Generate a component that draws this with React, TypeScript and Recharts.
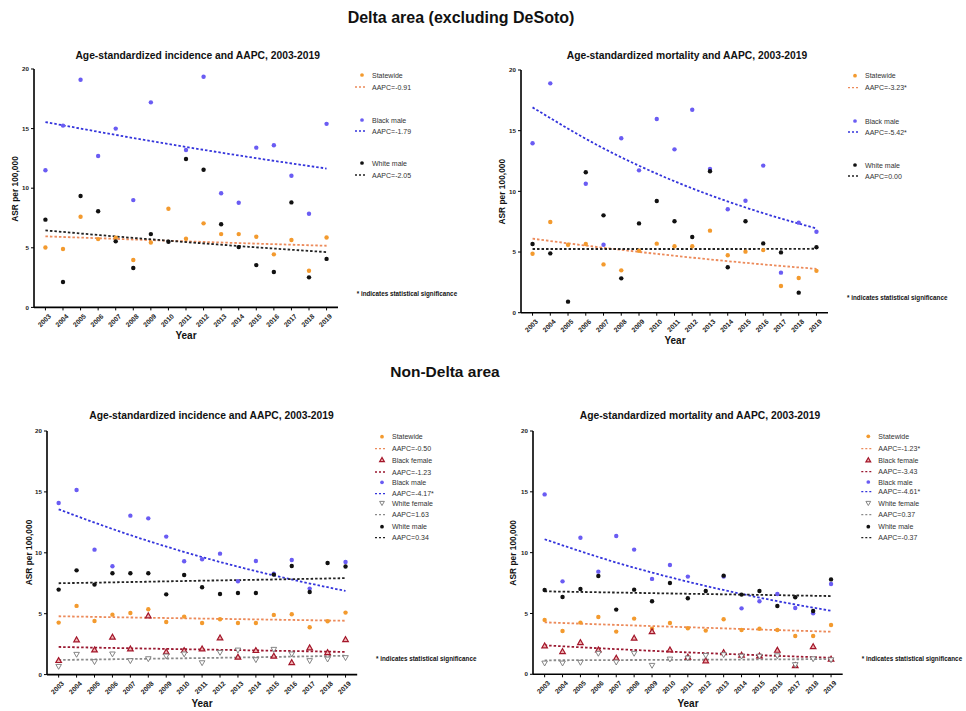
import React from "react";
import { ComposedChart, Line, Scatter, XAxis, YAxis } from "recharts";

const FONT = '"Liberation Sans", Arial, Helvetica, sans-serif';

const YEARS = [2003, 2004, 2005, 2006, 2007, 2008, 2009, 2010, 2011, 2012, 2013, 2014, 2015, 2016, 2017, 2018, 2019];
const TREND_YEARS = [2003, 2007, 2011, 2015, 2019];
const Y_TICKS = [0, 5, 10, 15, 20];

// Delta area (excluding DeSoto) - incidence
const D_INC_STATEWIDE = [5.03, 4.9, 7.6, 5.73, 5.85, 3.97, 5.45, 8.28, 5.76, 7.05, 6.15, 6.15, 5.93, 4.45, 5.65, 3.08, 5.86];
const D_INC_BLACK_MALE = [11.5, 15.25, 19.1, 12.7, 15.0, 9.0, 17.2, null, 13.2, 19.35, 9.57, 8.78, 13.4, 13.6, 11.05, 7.86, 15.4];
const D_INC_WHITE_MALE = [7.36, 2.13, 9.34, 8.06, 5.54, 3.3, 6.15, 5.51, 12.45, 11.55, 6.97, 5.06, 3.55, 2.97, 8.81, 2.52, 4.07];
const D_INC_TREND_STATEWIDE = [5.96, 5.75, 5.54, 5.35, 5.17];
const D_INC_TREND_BLACK_MALE = [15.55, 14.47, 13.46, 12.52, 11.65];
const D_INC_TREND_WHITE_MALE = [6.46, 5.95, 5.48, 5.04, 4.64];
const D_INC_AAPC = ["AAPC=-0.91", "AAPC=-1.79", "AAPC=-2.05"];

// Delta area - mortality
const D_MORT_STATEWIDE = [4.86, 7.47, 5.6, 5.66, 3.98, 3.49, 5.11, 5.69, 5.47, 5.47, 6.76, 4.73, 5.03, 5.16, 2.2, 2.86, 3.45];
const D_MORT_BLACK_MALE = [13.96, 18.9, null, 10.63, 5.6, 14.37, 11.73, 15.96, 13.46, 16.73, 11.84, 8.52, 9.23, 12.12, 3.3, 7.42, 6.67];
const D_MORT_WHITE_MALE = [5.66, 4.89, 0.91, 11.57, 8.02, 2.83, 7.36, 9.2, 7.53, 6.24, 11.65, 3.74, 7.53, 5.71, 4.97, 1.65, 5.4];
const D_MORT_TREND_STATEWIDE = [6.1, 5.35, 4.69, 4.11, 3.61];
const D_MORT_TREND_BLACK_MALE = [16.92, 13.54, 10.83, 8.67, 6.94];
const D_MORT_TREND_WHITE_MALE = [5.25, 5.25, 5.25, 5.25, 5.27];
const D_MORT_AAPC = ["AAPC=-3.23*", "AAPC=-5.42*", "AAPC=0.00"];

// Non-Delta area - incidence
const N_INC_STATEWIDE = [4.27, 5.64, 4.4, 4.92, 5.06, 5.36, 4.32, 4.76, 4.24, 4.54, 4.24, 4.24, 4.9, 4.95, 3.89, 4.38, 5.09];
const N_INC_BLACK_FEMALE = [1.15, 2.85, 2.02, 3.06, 2.1, 4.82, 1.86, 1.97, 2.1, 3.0, 1.42, 1.97, 1.5, 0.98, 2.19, 1.8, 2.87];
const N_INC_BLACK_MALE = [14.09, 15.16, 10.26, 8.89, 13.05, 12.83, 11.33, 9.3, 9.47, 9.93, 7.66, 9.33, 8.29, 9.41, 7.06, null, 9.25];
const N_INC_WHITE_FEMALE = [0.68, 1.67, 1.07, 1.7, 1.15, 1.31, 1.53, 1.7, 0.98, 1.83, 2.02, 1.23, 2.08, 1.7, 1.15, 1.28, 1.4];
const N_INC_WHITE_MALE = [6.98, 8.56, 7.39, 8.32, 8.32, 8.32, 6.59, 8.18, 7.17, 6.62, 6.7, 6.7, 8.21, 8.92, 6.78, 9.16, 8.87];
const N_INC_TREND_STATEWIDE = [4.79, 4.69, 4.6, 4.51, 4.42];
const N_INC_TREND_BLACK_FEMALE = [2.27, 2.16, 2.06, 1.96, 1.86];
const N_INC_TREND_BLACK_MALE = [13.57, 11.45, 9.65, 8.14, 6.87];
const N_INC_TREND_WHITE_FEMALE = [1.2, 1.28, 1.36, 1.45, 1.55];
const N_INC_TREND_WHITE_MALE = [7.5, 7.6, 7.71, 7.81, 7.92];
const N_INC_AAPC = ["AAPC=-0.50", "AAPC=-1.23", "AAPC=-4.17*", "AAPC=1.63", "AAPC=0.34"];

// Non-Delta area - mortality
const N_MORT_STATEWIDE = [4.47, 3.56, 4.25, 4.71, 3.51, 4.58, 3.75, 4.22, 3.78, 3.59, 4.52, 3.64, 3.75, 3.64, 3.15, 3.15, 4.05];
const N_MORT_BLACK_FEMALE = [2.33, 1.86, 2.6, 2.0, 1.32, 2.96, 3.5, 2.0, 1.4, 1.1, 1.78, 1.56, 1.5, 1.97, 0.71, 2.27, 1.23];
const N_MORT_BLACK_MALE = [14.79, 7.64, 11.23, 8.44, 11.37, 10.25, 7.84, 8.99, 8.03, null, 8.03, 5.42, 6.0, 6.6, 5.45, 5.01, 7.42];
const N_MORT_WHITE_FEMALE = [0.93, 0.93, 0.99, 1.73, 1.01, 1.73, 0.74, 1.26, 1.34, 1.56, 1.62, 1.5, 1.5, 1.53, 0.8, 1.28, 1.2];
const N_MORT_WHITE_MALE = [6.93, 6.36, 7.01, 8.08, 5.32, 6.96, 6.0, 7.51, 6.25, 6.85, 8.11, 6.55, 6.85, 5.62, 6.33, 5.2, 7.8];
const N_MORT_TREND_STATEWIDE = [4.27, 4.06, 3.87, 3.68, 3.5];
const N_MORT_TREND_BLACK_FEMALE = [2.38, 2.07, 1.8, 1.57, 1.36];
const N_MORT_TREND_BLACK_MALE = [11.1, 9.19, 7.61, 6.3, 5.22];
const N_MORT_TREND_WHITE_FEMALE = [1.15, 1.17, 1.19, 1.22, 1.25];
const N_MORT_TREND_WHITE_MALE = [6.82, 6.72, 6.62, 6.53, 6.43];
const N_MORT_AAPC = ["AAPC=-1.23*", "AAPC=-3.43", "AAPC=-4.61*", "AAPC=0.37", "AAPC=-0.37"];

const SERIES_STYLE: Record<string, { name: string; marker: string; color: string; line: string }> = {
  sw: { name: "Statewide", marker: "circle", color: "#f39a2e", line: "#ec8a5a" },
  bf: { name: "Black female", marker: "up", color: "#a3162a", line: "#9a1830" },
  bm: { name: "Black male", marker: "circle", color: "#6a5cf3", line: "#3434dc" },
  wf: { name: "White female", marker: "down", color: "#777777", line: "#8a8a8a" },
  wm: { name: "White male", marker: "circle", color: "#111111", line: "#222222" },
};

function buildRows(series: Record<string, { vals: (number | null)[]; trend: number[] }>) {
  return YEARS.map((year, i) => {
    const row: Record<string, number | null> = { year };
    for (const k of Object.keys(series)) {
      row[k] = series[k].vals[i];
      const ti = TREND_YEARS.indexOf(year);
      row[k + "T"] = ti >= 0 ? series[k].trend[ti] : null;
    }
    return row;
  });
}

function drawMarker(kind: string, cx: number, cy: number, color: string, s = 1) {
  if (kind === "up") {
    return (
      <polygon
        points={`${cx},${cy - 3 * s} ${cx - 2.8 * s},${cy + 1.9 * s} ${cx + 2.8 * s},${cy + 1.9 * s}`}
        fill="#f1b5b5"
        stroke={color}
        strokeWidth={1.2}
      />
    );
  }
  if (kind === "down") {
    return (
      <polygon
        points={`${cx - 2.8 * s},${cy - 1.9 * s} ${cx + 2.8 * s},${cy - 1.9 * s} ${cx},${cy + 3 * s}`}
        fill="#ffffff"
        stroke={color}
        strokeWidth={0.9}
      />
    );
  }
  return <circle cx={cx} cy={cy} r={2.2 * s} fill={color} />;
}

const XTick = (props: any) => {
  const { x, y, payload } = props;
  const tx = x + 2.5;
  const ty = y + 1;
  return (
    <text
      x={tx}
      y={ty}
      transform={`rotate(-45 ${tx} ${ty})`}
      textAnchor="end"
      dominantBaseline="hanging"
      fontSize={6.8}
      fontWeight="bold"
      fontFamily={FONT}
      fill="#222"
    >
      {payload.value}
    </text>
  );
};

const YTick = (props: any) => {
  const { x, y, payload } = props;
  return (
    <text x={x} y={y} dy="0.35em" textAnchor="end" fontSize={6.2} fontWeight="bold" fontFamily={FONT} fill="#222">
      {payload.value}
    </text>
  );
};

interface PanelCfg {
  plotLeft: number;
  plotTop: number;
  plotW: number;
  plotH: number;
  keys: string[];
  rows: Record<string, number | null>[];
}

const Panel: React.FC<{ cfg: PanelCfg }> = ({ cfg }) => {
  const { plotLeft, plotTop, plotW, plotH, keys, rows } = cfg;
  const YW = 30;
  const XH = 30;
  const MT = 5;
  const MR = 5;
  return (
    <div style={{ position: "absolute", left: plotLeft - YW, top: plotTop - MT }}>
      <ComposedChart
        width={YW + plotW + MR}
        height={MT + plotH + XH}
        data={rows}
        margin={{ top: MT, right: MR, left: 0, bottom: 0 }}
      >
        <XAxis
          type="number"
          dataKey="year"
          domain={[2002.35, 2019.65]}
          allowDataOverflow
          ticks={YEARS}
          interval={0}
          height={XH}
          tickSize={3}
          axisLine={{ stroke: "#000", strokeWidth: 1.6 }}
          tickLine={{ stroke: "#000", strokeWidth: 1 }}
          tick={<XTick />}
        />
        <YAxis
          type="number"
          domain={[0, 20]}
          allowDataOverflow
          ticks={Y_TICKS}
          interval={0}
          width={YW}
          tickSize={3}
          axisLine={{ stroke: "#000", strokeWidth: 1.6 }}
          tickLine={{ stroke: "#000", strokeWidth: 1 }}
          tick={<YTick />}
        />
        {keys.map((k) => (
          <Line
            key={k + "T"}
            dataKey={k + "T"}
            type="monotone"
            connectNulls
            stroke={SERIES_STYLE[k].line}
            strokeWidth={1.8}
            strokeDasharray="2.5 2"
            dot={false}
            activeDot={false}
            isAnimationActive={false}
          />
        ))}
        {keys.map((k) => (
          <Scatter
            key={k}
            dataKey={k}
            isAnimationActive={false}
            shape={(p: any) => {
              const v = p.payload ? p.payload[k] : null;
              if (v == null || !isFinite(p.cx) || !isFinite(p.cy)) return <g />;
              return drawMarker(SERIES_STYLE[k].marker, p.cx, p.cy, SERIES_STYLE[k].color);
            }}
          />
        ))}
      </ComposedChart>
    </div>
  );
};

const PANELS: PanelCfg[] = [
  {
    plotLeft: 34,
    plotTop: 69.3,
    plotW: 304,
    plotH: 238.4,
    keys: ["sw", "bm", "wm"],
    rows: buildRows({
      sw: { vals: D_INC_STATEWIDE, trend: D_INC_TREND_STATEWIDE },
      bm: { vals: D_INC_BLACK_MALE, trend: D_INC_TREND_BLACK_MALE },
      wm: { vals: D_INC_WHITE_MALE, trend: D_INC_TREND_WHITE_MALE },
    }),
  },
  {
    plotLeft: 520.5,
    plotTop: 70,
    plotW: 307,
    plotH: 242.7,
    keys: ["sw", "bm", "wm"],
    rows: buildRows({
      sw: { vals: D_MORT_STATEWIDE, trend: D_MORT_TREND_STATEWIDE },
      bm: { vals: D_MORT_BLACK_MALE, trend: D_MORT_TREND_BLACK_MALE },
      wm: { vals: D_MORT_WHITE_MALE, trend: D_MORT_TREND_WHITE_MALE },
    }),
  },
  {
    plotLeft: 46.7,
    plotTop: 430.7,
    plotW: 310.2,
    plotH: 243.6,
    keys: ["sw", "bf", "bm", "wf", "wm"],
    rows: buildRows({
      sw: { vals: N_INC_STATEWIDE, trend: N_INC_TREND_STATEWIDE },
      bf: { vals: N_INC_BLACK_FEMALE, trend: N_INC_TREND_BLACK_FEMALE },
      bm: { vals: N_INC_BLACK_MALE, trend: N_INC_TREND_BLACK_MALE },
      wf: { vals: N_INC_WHITE_FEMALE, trend: N_INC_TREND_WHITE_FEMALE },
      wm: { vals: N_INC_WHITE_MALE, trend: N_INC_TREND_WHITE_MALE },
    }),
  },
  {
    plotLeft: 532.5,
    plotTop: 431,
    plotW: 309.7,
    plotH: 243.3,
    keys: ["sw", "bf", "bm", "wf", "wm"],
    rows: buildRows({
      sw: { vals: N_MORT_STATEWIDE, trend: N_MORT_TREND_STATEWIDE },
      bf: { vals: N_MORT_BLACK_FEMALE, trend: N_MORT_TREND_BLACK_FEMALE },
      bm: { vals: N_MORT_BLACK_MALE, trend: N_MORT_TREND_BLACK_MALE },
      wf: { vals: N_MORT_WHITE_FEMALE, trend: N_MORT_TREND_WHITE_FEMALE },
      wm: { vals: N_MORT_WHITE_MALE, trend: N_MORT_TREND_WHITE_MALE },
    }),
  },
];

// legend / label placement for each panel
const ANNOT = [
  {
    title: "Age-standardized incidence and AAPC, 2003-2019",
    titleX: 197.7, titleY: 55,
    yLabelX: 15.3, yLabelY: 189,
    yearX: 186, yearY: 335,
    legendX: 362, legendYs: [75, 87, 120, 131, 163, 175],
    keys: ["sw", "bm", "wm"], aapc: D_INC_AAPC,
    noteX: 356.7, noteY: 293,
  },
  {
    title: "Age-standardized mortality and AAPC, 2003-2019",
    titleX: 687, titleY: 55,
    yLabelX: 501.7, yLabelY: 191.7,
    yearX: 675, yearY: 340,
    legendX: 855, legendYs: [75.7, 87.7, 121, 132, 165, 176],
    keys: ["sw", "bm", "wm"], aapc: D_MORT_AAPC,
    noteX: 847, noteY: 297,
  },
  {
    title: "Age-standardized incidence and AAPC, 2003-2019",
    titleX: 211.5, titleY: 415,
    yLabelX: 29.3, yLabelY: 552.5,
    yearX: 202, yearY: 703,
    legendX: 382, legendYs: [436.7, 448.7, 460, 472, 482.3, 493.7, 503, 514.7, 526.7, 537.7],
    keys: ["sw", "bf", "bm", "wf", "wm"], aapc: N_INC_AAPC,
    noteX: 376, noteY: 658.7,
  },
  {
    title: "Age-standardized mortality and AAPC, 2003-2019",
    titleX: 700, titleY: 415,
    yLabelX: 513.3, yLabelY: 552.8,
    yearX: 688, yearY: 703,
    legendX: 868.3, legendYs: [436.3, 448.7, 460.3, 471.7, 482, 491.7, 503, 514.7, 526.7, 537.7],
    keys: ["sw", "bf", "bm", "wf", "wm"], aapc: N_MORT_AAPC,
    noteX: 861.7, noteY: 658.7,
  },
];

const Annotations: React.FC = () => (
  <svg width={966} height={711} style={{ position: "absolute", left: 0, top: 0, pointerEvents: "none" }} fontFamily={FONT}>
    <text x={461} y={17} dominantBaseline="central" textAnchor="middle" fontSize={16} fontWeight="bold" fill="#111">
      Delta area (excluding DeSoto)
    </text>
    <text x={445} y={371} dominantBaseline="central" textAnchor="middle" fontSize={15.5} fontWeight="bold" fill="#111">
      Non-Delta area
    </text>
    {ANNOT.map((a, pi) => (
      <g key={pi}>
        <text x={a.titleX} y={a.titleY} dominantBaseline="central" textAnchor="middle" fontSize={10.3} fontWeight="bold" fill="#111">
          {a.title}
        </text>
        <text
          x={a.yLabelX}
          y={a.yLabelY}
          transform={`rotate(-90 ${a.yLabelX} ${a.yLabelY})`}
          dominantBaseline="central"
          textAnchor="middle"
          fontSize={8.4}
          fontWeight="bold"
          fill="#111"
        >
          ASR per 100,000
        </text>
        <text x={a.yearX} y={a.yearY} dominantBaseline="central" textAnchor="middle" fontSize={10} fontWeight="bold" fill="#111">
          Year
        </text>
        {a.keys.map((k, i) => {
          const st = SERIES_STYLE[k];
          const ym = a.legendYs[i * 2];
          const yl = a.legendYs[i * 2 + 1];
          return (
            <g key={k}>
              {drawMarker(st.marker, a.legendX, ym, st.color, 0.85)}
              <text x={a.legendX + 10} y={ym} dominantBaseline="central" fontSize={7} fill="#333">
                {st.name}
              </text>
              <line
                x1={a.legendX - 7}
                x2={a.legendX + 5}
                y1={yl}
                y2={yl}
                stroke={st.line}
                strokeWidth={1.3}
                strokeDasharray="2 2"
              />
              <text x={a.legendX + 10} y={yl} dominantBaseline="central" fontSize={7} fill="#333">
                {a.aapc[i]}
              </text>
            </g>
          );
        })}
        <text x={a.noteX} y={a.noteY} dominantBaseline="central" fontSize={6.3} fontWeight="bold" fill="#111">
          * indicates statistical significance
        </text>
      </g>
    ))}
  </svg>
);

export default function App() {
  return (
    <div style={{ position: "absolute", left: 0, top: 0, width: 966, height: 711, background: "#fff", overflow: "hidden" }}>
      {PANELS.map((cfg, i) => (
        <Panel key={i} cfg={cfg} />
      ))}
      <Annotations />
    </div>
  );
}
